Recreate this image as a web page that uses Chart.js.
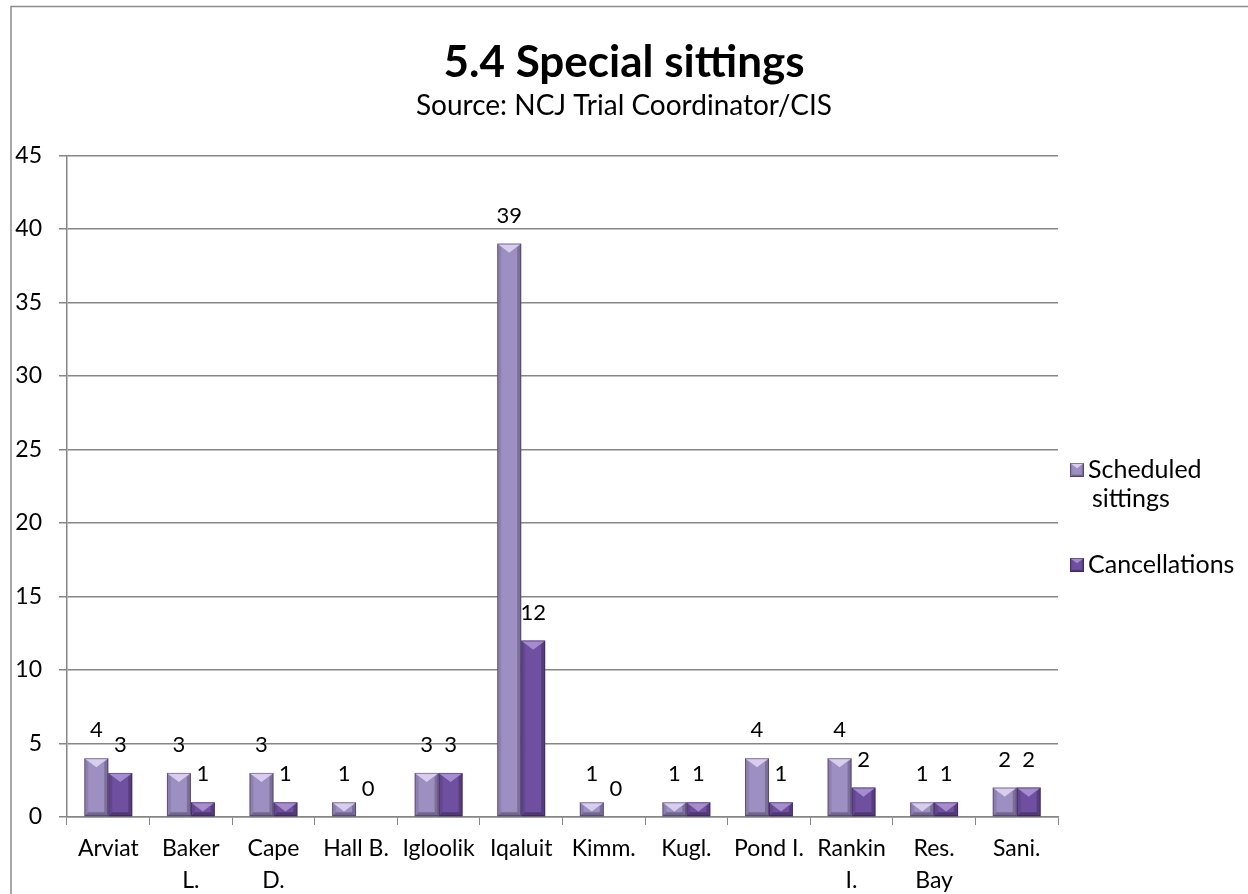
<!DOCTYPE html>
<html>
<head>
<meta charset="utf-8">
<script src="https://cdn.jsdelivr.net/npm/chart.js@4.4.0/dist/chart.umd.min.js"></script>
<style>
  html, body { margin: 0; padding: 0; background: #fff; }
</style>
</head>
<body>
<canvas id="sittingsChart" width="1248" height="894"></canvas>
<script>
// data
var communities = ['Arviat', ['Baker', 'L.'], ['Cape', 'D.'], 'Hall B.', 'Igloolik', 'Iqaluit',
  'Kimm.', 'Kugl.', 'Pond I.', ['Rankin', 'I.'], ['Res.', 'Bay'], 'Sani.'];
var scheduledSittings = [4, 3, 3, 1, 3, 39, 1, 1, 4, 4, 1, 2];
var cancellations = [3, 1, 1, 0, 3, 12, 0, 1, 1, 2, 1, 2];
var yTickValues = [0, 5, 10, 15, 20, 25, 30, 35, 40, 45];
var seriesNames = [['Scheduled', 'sittings'], ['Cancellations']];

var FONT = "Lato, 'Open Sans', sans-serif";
var lightPurple = '#9d8fc2';
var darkPurple = '#6f4fa0';
var topTints = ['rgba(235,225,250,0.75)', 'rgba(175,150,215,0.85)'];

// draws the excel-ish bevel on top of a plain rectangle
function bevel(ctx, xl, xr, yt, yb, topTint) {
  var w = xr - xl;
  var e = Math.min(4, w / 6);
  ctx.save();
  // right edge shadow
  ctx.fillStyle = 'rgba(0,0,0,0.22)';
  ctx.beginPath();
  ctx.moveTo(xr - e, yt + e); ctx.lineTo(xr, yt); ctx.lineTo(xr, yb); ctx.lineTo(xr - e, yb - e);
  ctx.closePath(); ctx.fill();
  // left edge
  ctx.fillStyle = 'rgba(0,0,0,0.10)';
  ctx.beginPath();
  ctx.moveTo(xl, yt); ctx.lineTo(xl + e, yt + e); ctx.lineTo(xl + e, yb - e); ctx.lineTo(xl, yb);
  ctx.closePath(); ctx.fill();
  // bottom edge
  ctx.fillStyle = 'rgba(0,0,0,0.28)';
  ctx.beginPath();
  ctx.moveTo(xl, yb); ctx.lineTo(xl + e, yb - e); ctx.lineTo(xr - e, yb - e); ctx.lineTo(xr, yb);
  ctx.closePath(); ctx.fill();
  // top triangle highlight
  var th = Math.min(w * 0.38, yb - yt);
  ctx.fillStyle = topTint;
  ctx.beginPath();
  ctx.moveTo(xl, yt); ctx.lineTo(xr, yt); ctx.lineTo((xl + xr) / 2, yt + th);
  ctx.closePath(); ctx.fill();
  ctx.strokeStyle = 'rgba(40,20,70,0.45)';
  ctx.lineWidth = 1;
  ctx.strokeRect(xl + 0.5, yt + 0.5, w - 1, yb - yt - 1);
  ctx.restore();
}

var framePlugin = {
  id: 'frame',
  beforeDraw: function(chart) {
    var ctx = chart.ctx;
    ctx.save();
    ctx.fillStyle = '#fff';
    ctx.fillRect(0, 0, chart.width, chart.height);
    ctx.strokeStyle = '#8c8c8c';
    ctx.lineWidth = 1.5;
    ctx.strokeRect(11, 6.5, chart.width + 20, chart.height + 20);
    ctx.restore();
  }
};

var barLook = {
  id: 'barLook',
  afterDatasetsDraw: function(chart) {
    var ctx = chart.ctx;
    chart.data.datasets.forEach(function(ds, di) {
      var meta = chart.getDatasetMeta(di);
      meta.data.forEach(function(bar, i) {
        var p = bar.getProps(['x', 'y', 'base', 'width'], true);
        var xl = p.x - p.width / 2, xr = p.x + p.width / 2;
        if (p.base - p.y > 1) bevel(ctx, xl, xr, p.y, p.base, topTints[di]);
        // value label
        ctx.save();
        ctx.fillStyle = '#000';
        ctx.font = '22px ' + FONT;
        ctx.textAlign = 'center';
        ctx.textBaseline = 'middle';
        ctx.fillText(String(ds.data[i]), p.x, p.y - 28);
        ctx.restore();
      });
    });
  }
};

var sideLegend = {
  id: 'sideLegend',
  afterDraw: function(chart) {
    var ctx = chart.ctx;
    var x = chart.chartArea.right + 12;
    var rows = [470, 565];
    ctx.save();
    ctx.font = '25px ' + FONT;
    ctx.textBaseline = 'middle';
    seriesNames.forEach(function(lines, i) {
      var y = rows[i];
      ctx.fillStyle = chart.data.datasets[i].backgroundColor;
      ctx.fillRect(x, y - 7, 14, 14);
      bevel(ctx, x, x + 14, y - 7, y + 7, topTints[i]);
      ctx.fillStyle = '#000';
      lines.forEach(function(t, k) {
        ctx.fillText(t, x + 18 + (k > 0 ? 4 : 0), y + k * 29);
      });
    });
    ctx.restore();
  }
};

var ctx = document.getElementById('sittingsChart').getContext('2d');
new Chart(ctx, {
  type: 'bar',
  data: {
    labels: communities,
    datasets: [{
      label: 'Scheduled sittings',
      data: scheduledSittings,
      backgroundColor: lightPurple,
      categoryPercentage: 0.58,
      barPercentage: 1
    }, {
      label: 'Cancellations',
      data: cancellations,
      backgroundColor: darkPurple,
      categoryPercentage: 0.58,
      barPercentage: 1
    }]
  },
  options: {
    responsive: false,
    animation: false,
    devicePixelRatio: 1,
    layout: { padding: 0 },
    plugins: {
      legend: { display: false },
      tooltip: { enabled: false },
      title: {
        display: true,
        text: '5.4 Special sittings',
        color: '#000',
        font: { family: FONT, size: 44, weight: 'bold' },
        padding: { top: 36, bottom: 0 }
      },
      subtitle: {
        display: true,
        text: 'Source: NCJ Trial Coordinator/CIS',
        color: '#000',
        font: { family: FONT, size: 28 },
        padding: { top: 0, bottom: 33 }
      }
    },
    scales: {
      x: {
        grid: { offset: true, drawOnChartArea: false, drawTicks: true, tickLength: 8, color: '#868686' },
        border: { color: '#868686', width: 1.5 },
        ticks: { color: '#000', font: { family: FONT, size: 23, lineHeight: 1.4 }, padding: 7, maxRotation: 0, autoSkip: false },
        afterFit: function(scale) { scale.height = 77; }
      },
      y: {
        min: 0,
        max: 45,
        afterBuildTicks: function(scale) {
          scale.ticks = yTickValues.map(function(v) { return { value: v }; });
        },
        grid: { color: '#868686', lineWidth: 1.5, tickLength: 8 },
        border: { color: '#868686', width: 1.5 },
        ticks: { color: '#000', font: { family: FONT, size: 23 }, padding: 17 },
        afterFit: function(scale) { scale.width = 67; }
      },
      // empty right-hand axis that reserves the room the legend sits in
      legendRoom: {
        type: 'linear',
        position: 'right',
        grid: { display: false },
        border: { display: false },
        ticks: { display: false },
        afterFit: function(scale) { scale.width = 190; }
      }
    }
  },
  plugins: [framePlugin, barLook, sideLegend]
});
</script>
</body>
</html>
